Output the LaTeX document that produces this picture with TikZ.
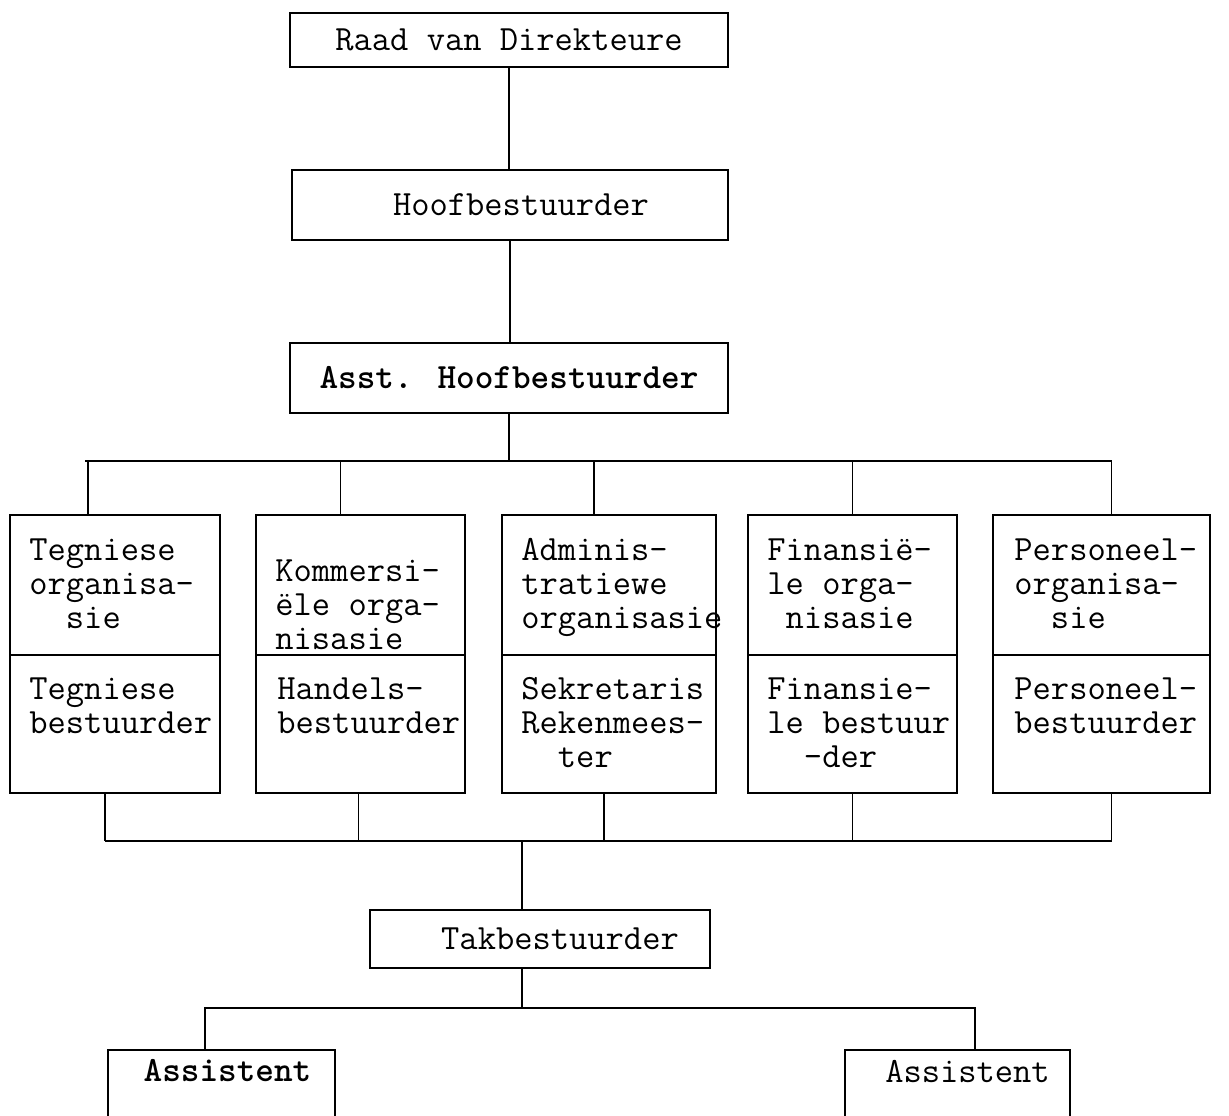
\documentclass[tikz,border=0pt]{standalone}
\usepackage{fontspec}
\usetikzlibrary{positioning,calc}
\tikzset{
  box/.style={draw,rectangle,line width=1.1pt,inner sep=0pt},
  txt/.style={font=\ttfamily\fontsize{20.2}{19.4}\selectfont,align=left,inner sep=0pt},
  boldtxt/.style={txt,font=\ttfamily\bfseries\fontsize{20.2}{19.4}\selectfont},
  wire/.style={line width=1.1pt},
}

\begin{document}
\begin{tikzpicture}[x=0.02cm,y=-0.02cm]
  \useasboundingbox (0,0) rectangle (1229,1115);

  % top of the chart
  \node(raad)[box,txt,minimum width=8.76cm,minimum height=1.08cm] at (509,40) {Raad van Direkteure};
  \node(hoof)[box,txt,minimum width=8.72cm,minimum height=1.4cm] at (510,205) {\hspace*{0.44cm}Hoofbestuurder};
  \node(asst)[box,boldtxt,minimum width=8.76cm,minimum height=1.4cm] at (509,378) {Asst. Hoofbestuurder};

  % five departments
  \foreach \n/\xc/\w in {1/115/4.2, 2/360.5/4.18, 3/609/4.28, 4/852.5/4.18, 5/1101.5/4.34} {
    \node(org\n)[box,minimum width=\w cm,minimum height=2.8cm] at (\xc,585) {};
    \node(job\n)[box,minimum width=\w cm,minimum height=2.76cm] at (\xc,724) {};
  }

  \node(torg1)[txt,anchor=north west] at ($(org1.north west)+(20,24)$) {Tegniese\\organisa-\\\phantom{xx}sie};
  \node(torg2)[txt,anchor=north west] at ($(org2.north west)+(20,45)$) {Kommersi-\\ële orga-\\nisasie};
  \node(torg3)[txt,anchor=north west] at ($(org3.north west)+(20,24)$) {Adminis-\\tratiewe\\organisasie};
  \node(torg4)[txt,anchor=north west] at ($(org4.north west)+(20,24)$) {Finansië-\\le orga-\\\phantom{x}nisasie};
  \node(torg5)[txt,anchor=north west] at ($(org5.north west)+(22,24)$) {Personeel-\\organisa-\\\phantom{xx}sie};

  \node(tjob1)[txt,anchor=north west] at ($(job1.north west)+(20,23)$) {Tegniese\\bestuurder};
  \node(tjob2)[txt,anchor=north west] at ($(job2.north west)+(22,23)$) {Handels-\\bestuurder};
  \node(tjob3)[txt,anchor=north west] at ($(job3.north west)+(20,23)$) {Sekretaris\\Rekenmees-\\\phantom{xx}ter};
  \node(tjob4)[txt,anchor=north west] at ($(job4.north west)+(20,23)$) {Finansie-\\le bestuur\\\phantom{xx}-der};
  \node(tjob5)[txt,anchor=north west] at ($(job5.north west)+(22,23)$) {Personeel-\\bestuurder};

  % branch level
  \node(tak)[box,txt,minimum width=6.8cm,minimum height=1.16cm] at (540,939) {\hspace*{0.8cm}Takbestuurder};
  \node(ass1)[minimum width=4.54cm,minimum height=1.4cm,inner sep=0pt] at (221.5,1085) {};
  \node(ass2)[minimum width=4.5cm,minimum height=1.4cm,inner sep=0pt] at (957.5,1085) {};
  \draw[wire] (ass1.south west) |- (ass1.north east) -- (ass1.south east);
  \draw[wire] (ass2.south west) |- (ass2.north east) -- (ass2.south east);
  \node(tass1)[boldtxt] at ($(ass1.north)+(6,21)$) {Assistent};
  \node(tass2)[txt] at ($(ass2.north)+(10,22)$) {Assistent};

  % connectors
  \coordinate(topbus) at (504,462);
  \coordinate(botbus) at (522,840);
  \coordinate(lowbus) at (522,1008);

  \draw[wire] (raad.south) -- (raad.south |- hoof.north);
  \draw[wire] (hoof.south) -- (hoof.south |- asst.north);
  \draw[wire] (asst.south) -- (asst.south |- topbus);
  \draw[wire] ($(org1.north)+(-30,-53)$) -- ($(org5.north)+(10,-53)$);
  \foreach \n/\dx in {1/-27, 2/-20, 3/-15, 4/0, 5/10}
    \draw[wire] ($(org\n.north)+(\dx,0)$) -- ($(org\n.north)+(\dx,-53)$);

  \foreach \n/\dx in {1/-10, 2/-2, 3/-5, 4/0, 5/10}
    \draw[wire] ($(job\n.south)+(\dx,0)$) -- ($(job\n.south)+(\dx,47)$);
  \draw[wire] ($(job1.south)+(-10,47)$) -- ($(job5.south)+(10,47)$);
  \draw[wire] (botbus) -- (botbus |- tak.north);
  \draw[wire] (botbus |- tak.south) -- (lowbus);
  \draw[wire] ($(ass1.north)+(-16.5,0)$) |- (lowbus) -| ($(ass2.north)+(17.5,0)$);
\end{tikzpicture}
\end{document}
